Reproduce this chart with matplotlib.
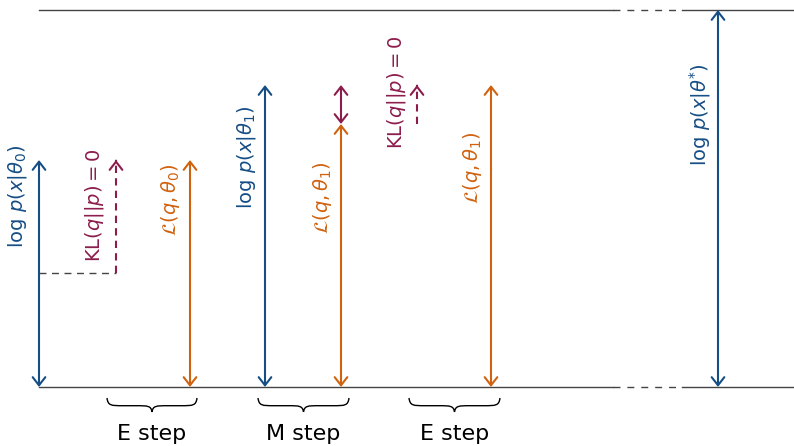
import matplotlib.pyplot as plt
from matplotlib.path import Path
from matplotlib.patches import PathPatch

plt.rcParams['mathtext.fontset'] = 'dejavusans'
plt.rcParams['font.family'] = ['DejaVu Sans']

# values (height above the baseline)
logp = [227, 302, 377]          # log p(x|theta_0), log p(x|theta_1), log p(x|theta*)
elbo = [114, 227, 263, 302]     # L before E step, after E step, after M step, after 2nd E step
top_level = 377
step_names = ["E step", "M step", "E step"]

blue = "#154d85"
orange = "#d0620f"
maroon = "#8c1c4c"
grey = "#444444"

fig = plt.figure(figsize=(7.94, 4.46), dpi=100)
ax = fig.add_axes([0, 0, 1, 1])
ax.set_xlim(0, 794)
ax.set_ylim(-59, 387)
ax.axis("off")

def arrow(x, y0, y1, color, style="<->"):
    ax.annotate("", xy=(x, y1), xytext=(x, y0),
                arrowprops=dict(arrowstyle=style + ",head_length=0.45,head_width=0.35",
                                color=color, lw=1.5, shrinkA=0, shrinkB=0,
                                mutation_scale=13))

def dashed_arrow(x, y0, y1, color):
    ax.plot([x, x], [y0, y1 - 2], color=color, lw=1.5, ls=(0, (3.5, 2.5)))
    arrow(x, y1 - 1, y1, color, style="->")

def label(x, y, s, color):
    ax.text(x, y, s, color=color, fontsize=14, rotation=90, ha="center", va="center")

def brace(x0, x1, y, h):
    xm = (x0 + x1) / 2
    ym = y - h * 0.55
    r = 16
    verts, codes = [], []
    for xe, sgn in [(x0, 1), (x1, -1)]:
        verts += [(xe, y),
                  (xe + sgn * 1, ym), (xe + sgn * 4, ym), (xe + sgn * r, ym),
                  (xm - sgn * r, ym),
                  (xm - sgn * 4, ym), (xm - sgn * 1, ym), (xm, y - h)]
        codes += [Path.MOVETO, Path.CURVE4, Path.CURVE4, Path.CURVE4,
                  Path.LINETO, Path.CURVE4, Path.CURVE4, Path.CURVE4]
    ax.add_patch(PathPatch(Path(verts, codes), fill=False, lw=1.0, color="black"))

# baseline and top line with a dashed gap
for yy in [0, top_level]:
    ax.plot([39, 613], [yy, yy], color=grey, lw=1)
    ax.plot([613, 682], [yy, yy], color=grey, lw=1, ls=(0, (5, 5)))
    ax.plot([682, 794], [yy, yy], color=grey, lw=1)

# initial state
arrow(39, 0, logp[0], blue)
label(18, 191, r"$\log\, p(x|\theta_0)$", blue)
ax.plot([39, 116], [elbo[0], elbo[0]], color=grey, lw=1, ls=(0, (5, 4)))
dashed_arrow(116, elbo[0], logp[0], maroon)
label(94, 182, r"$\mathrm{KL}(q||p) = 0$", maroon)

# after E step
arrow(190, 0, elbo[1], orange)
label(170, 187, r"$\mathcal{L}(q, \theta_0)$", orange)

# after M step
arrow(265, 0, logp[1], blue)
label(246, 230, r"$\log\, p(x|\theta_1)$", blue)
arrow(341, 0, elbo[2], orange)
arrow(341, elbo[2], logp[1], maroon)
label(322, 189, r"$\mathcal{L}(q, \theta_1)$", orange)

# after second E step
dashed_arrow(417, elbo[2], logp[1], maroon)
label(397, 295, r"$\mathrm{KL}(q||p) = 0$", maroon)
arrow(491, 0, elbo[3], orange)
label(473, 219, r"$\mathcal{L}(q, \theta_1)$", orange)

# optimum
arrow(718, 0, logp[2], blue)
label(700, 272, r"$\log\, p(x|\theta^{*})$", blue)

# braces with step names
for (x0, x1), name in zip([(107, 197), (258, 349), (409, 500)], step_names):
    brace(x0, x1, -11, 14)
    ax.text((x0 + x1) / 2, -47, name, fontsize=16, ha="center", va="center")

fig.savefig("out.png", dpi=100)
